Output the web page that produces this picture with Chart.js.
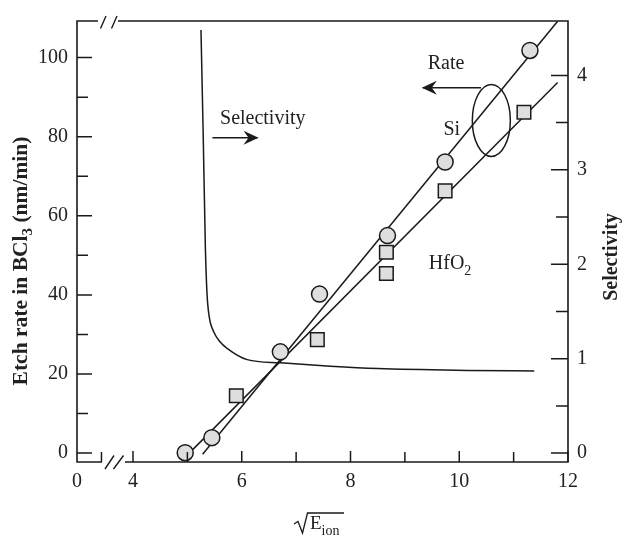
<!DOCTYPE html>
<html>
<head>
<meta charset="utf-8">
<script src="https://cdn.jsdelivr.net/npm/chart.js@4/dist/chart.umd.min.js"></script>
<style>
  html, body { margin: 0; padding: 0; background: #fff; }
  #wrap { width: 622px; height: 536px; position: relative; }
</style>
</head>
<body>
<div id="wrap"><canvas id="c" width="622" height="536"></canvas></div>
<script>
// ---- data ----
const siX = [4.96, 5.45, 6.71, 7.43, 8.68, 9.74, 11.30];
const siY = [0.1, 3.9, 25.6, 40.2, 55.0, 73.6, 101.8];
const hfX = [5.90, 7.39, 8.66, 8.66, 9.74, 11.19];
const hfY = [14.5, 28.7, 45.4, 50.8, 66.3, 86.2];
const siFitX = [5.28, 11.81];
const siFitY = [-0.3, 109.2];
const hfFitX = [5.02, 11.81];
const hfFitY = [-0.2, 93.7];
const selX = [5.25, 5.29, 5.33, 5.36, 5.40, 5.48, 5.60, 5.73, 6.10, 6.71, 7.63, 8.5, 10.15, 11.38];
const selY = [4.48, 3.40, 2.20, 1.70, 1.45, 1.29, 1.18, 1.11, 0.99, 0.956, 0.92, 0.895, 0.876, 0.87];

const xTickValues = [2.97, 3.42, 4, 5, 6, 7, 8, 9, 10, 11, 12];
const xTickLabels = ['0', '', '4', '', '6', '', '8', '', '10', '', '12'];
const yTickValues = [0, 10, 20, 30, 40, 50, 60, 70, 80, 90, 100];
const yTickLabels = ['0', '', '20', '', '40', '', '60', '', '80', '', '100'];
const y2TickValues = [0, 0.5, 1, 1.5, 2, 2.5, 3, 3.5, 4];
const y2TickLabels = ['0', '', '1', '', '2', '', '3', '', '4'];

const FONT = "'Liberation Serif', 'Times New Roman', serif";
const INK = '#1a1a1a';
const FILL = '#dedede';

function pts(xs, ys) { return xs.map((x, i) => ({ x: x, y: ys[i] })); }

function arrow(ctx, x1, y1, x2, y2) {
  ctx.beginPath();
  ctx.moveTo(x1, y1); ctx.lineTo(x2, y2); ctx.stroke();
  const dir = Math.sign(x2 - x1);
  ctx.beginPath();
  ctx.moveTo(x2 + dir * 1, y2);
  ctx.lineTo(x2 - dir * 14, y2 - 7);
  ctx.lineTo(x2 - dir * 9, y2);
  ctx.lineTo(x2 - dir * 14, y2 + 7);
  ctx.closePath();
  ctx.fill();
}

const decor = {
  id: 'decor',
  afterDraw(chart) {
    const ctx = chart.ctx;
    const a = chart.chartArea;
    const xs = chart.scales.x, ys = chart.scales.y, y2 = chart.scales.y2;
    ctx.save();
    ctx.strokeStyle = INK; ctx.fillStyle = INK;
    ctx.lineWidth = 1.6; ctx.lineCap = 'butt';

    // frame with axis breaks
    const topBreakA = a.left + 21, topBreakB = a.left + 41;
    const botBreakA = a.left + 25, botBreakB = a.left + 48;
    ctx.beginPath();
    ctx.moveTo(a.left, a.top); ctx.lineTo(a.left, a.bottom);
    ctx.moveTo(a.right, a.top); ctx.lineTo(a.right, a.bottom);
    ctx.moveTo(a.left - 0.8, a.top); ctx.lineTo(topBreakA, a.top);
    ctx.moveTo(topBreakB, a.top); ctx.lineTo(a.right + 0.8, a.top);
    ctx.moveTo(a.left - 0.8, a.bottom); ctx.lineTo(botBreakA, a.bottom);
    ctx.moveTo(botBreakB, a.bottom); ctx.lineTo(a.right + 0.8, a.bottom);
    ctx.stroke();
    // break slashes
    ctx.lineWidth = 1.4;
    ctx.beginPath();
    ctx.moveTo(topBreakA + 2.5, a.top + 7.5); ctx.lineTo(topBreakA + 8, a.top - 5);
    ctx.moveTo(topBreakA + 13.5, a.top + 7.5); ctx.lineTo(topBreakA + 19, a.top - 5);
    ctx.moveTo(botBreakA + 3, a.bottom + 7); ctx.lineTo(botBreakA + 12, a.bottom - 6.5);
    ctx.moveTo(botBreakA + 11.5, a.bottom + 7); ctx.lineTo(botBreakA + 21.5, a.bottom - 6.5);
    ctx.stroke();

    // inward ticks
    ctx.lineWidth = 1.5;
    ctx.beginPath();
    xTickValues.forEach((v, i) => {
      if (i === 0) return;
      const px = xs.getPixelForValue(v);
      const len = xTickLabels[i] ? 11 : 10;
      ctx.moveTo(px, a.bottom); ctx.lineTo(px, a.bottom - len);
    });
    yTickValues.forEach((v, i) => {
      const py = ys.getPixelForValue(v);
      const len = yTickLabels[i] ? 15 : 11;
      ctx.moveTo(a.left, py); ctx.lineTo(a.left + len, py);
    });
    y2TickValues.forEach((v, i) => {
      const py = y2.getPixelForValue(v);
      const len = y2TickLabels[i] ? 17 : 12;
      ctx.moveTo(a.right, py); ctx.lineTo(a.right - len, py);
    });
    ctx.stroke();

    // annotations (positions in data units)
    const X = v => xs.getPixelForValue(v), Y = v => ys.getPixelForValue(v);
    ctx.font = '20px ' + FONT;
    ctx.fillStyle = '#222';
    ctx.textBaseline = 'alphabetic';
    ctx.textAlign = 'left';
    ctx.fillText('Selectivity', X(5.60), Y(83.3));
    ctx.fillText('Rate', X(9.42), Y(97));
    ctx.fillText('Si', X(9.71), Y(80.5));
    ctx.fillText('HfO', X(9.44), Y(46.5));
    const hw = ctx.measureText('HfO').width;
    ctx.font = '14px ' + FONT;
    ctx.fillText('2', X(9.44) + hw, Y(46.5) + 6);

    ctx.fillStyle = INK; ctx.lineWidth = 1.5;
    arrow(ctx, X(5.46), Y(79.75), X(6.29), Y(79.75));
    arrow(ctx, X(10.40), Y(92.4), X(9.33), Y(92.4));
    ctx.beginPath();
    ctx.ellipse(X(10.59), Y(84.1), 19, 36, 0, 0, Math.PI * 2);
    ctx.stroke();

    // left axis title with subscript
    ctx.fillStyle = '#222';
    ctx.save();
    ctx.translate(27, 261);
    ctx.rotate(-Math.PI / 2);
    const p1 = 'Etch rate in BCl', p2 = '3', p3 = ' (nm/min)';
    ctx.font = 'bold 21.5px ' + FONT;
    const w1 = ctx.measureText(p1).width;
    const w3 = ctx.measureText(p3).width;
    ctx.font = 'bold 15px ' + FONT;
    const w2 = ctx.measureText(p2).width;
    const total = w1 + w2 + w3;
    let cx = -total / 2;
    ctx.font = 'bold 21.5px ' + FONT;
    ctx.fillText(p1, cx, 0); cx += w1;
    ctx.font = 'bold 15px ' + FONT;
    ctx.fillText(p2, cx, 5); cx += w2;
    ctx.font = 'bold 21.5px ' + FONT;
    ctx.fillText(p3, cx, 0);
    ctx.restore();

    // right axis title
    ctx.save();
    ctx.translate(617, 257);
    ctx.rotate(-Math.PI / 2);
    ctx.font = 'bold 20px ' + FONT;
    ctx.textAlign = 'center';
    ctx.fillText('Selectivity', 0, 0);
    ctx.restore();

    // x axis title: sqrt(E_ion)
    ctx.strokeStyle = INK; ctx.lineWidth = 1.3;
    ctx.beginPath();
    ctx.moveTo(294, 524); ctx.lineTo(298, 521.5); ctx.lineTo(302.5, 533);
    ctx.lineTo(307.5, 513); ctx.lineTo(344, 513);
    ctx.stroke();
    ctx.font = '19px ' + FONT;
    ctx.textAlign = 'left';
    ctx.fillText('E', 310, 529);
    const we = ctx.measureText('E').width;
    ctx.font = '14px ' + FONT;
    ctx.fillText('ion', 310 + we, 535);
    ctx.restore();
  }
};

const fixSize = (w, h) => (scale) => {
  if (w !== null) scale.width = w;
  if (h !== null) scale.height = h;
};

new Chart(document.getElementById('c'), {
  type: 'scatter',
  data: {
    datasets: [
      { label: 'Si', data: pts(siX, siY), pointStyle: 'circle', pointRadius: 8,
        pointBackgroundColor: FILL, pointBorderColor: INK, pointBorderWidth: 1.5, showLine: false, yAxisID: 'y' },
      { label: 'HfO2', data: pts(hfX, hfY), pointStyle: 'rect', pointRadius: 9.6,
        pointBackgroundColor: FILL, pointBorderColor: INK, pointBorderWidth: 1.5, showLine: false, yAxisID: 'y' },
      { label: 'Si fit', data: pts(siFitX, siFitY), showLine: true, pointRadius: 0,
        borderColor: INK, borderWidth: 1.5, yAxisID: 'y' },
      { label: 'HfO2 fit', data: pts(hfFitX, hfFitY), showLine: true, pointRadius: 0,
        borderColor: INK, borderWidth: 1.5, yAxisID: 'y' },
      { label: 'Selectivity', data: pts(selX, selY), showLine: true, pointRadius: 0,
        borderColor: INK, borderWidth: 1.5, cubicInterpolationMode: 'monotone', yAxisID: 'y2' }
    ]
  },
  options: {
    responsive: false,
    animation: false,
    devicePixelRatio: 1,
    layout: { padding: { top: 16, left: 0, right: 0, bottom: 0 } },
    plugins: { legend: { display: false }, tooltip: { enabled: false } },
    scales: {
      x: {
        type: 'linear', position: 'bottom', min: 2.97, max: 12,
        afterBuildTicks: s => { s.ticks = xTickValues.map(v => ({ value: v })); },
        afterFit: fixSize(null, 74),
        grid: { display: false, drawTicks: false },
        border: { display: false },
        ticks: { autoSkip: false, maxRotation: 0, padding: 8, color: '#222',
          font: { family: FONT, size: 20 }, callback: (v, i) => xTickLabels[i] }
      },
      y: {
        type: 'linear', position: 'left', min: -2.25, max: 109.25,
        afterBuildTicks: s => { s.ticks = yTickValues.map(v => ({ value: v })); },
        afterFit: fixSize(77, null),
        grid: { display: false, drawTicks: false },
        border: { display: false },
        ticks: { autoSkip: false, padding: 9, color: '#222',
          font: { family: FONT, size: 20 }, callback: (v, i) => yTickLabels[i] }
      },
      y2: {
        type: 'linear', position: 'right', min: -0.094, max: 4.576,
        afterBuildTicks: s => { s.ticks = y2TickValues.map(v => ({ value: v })); },
        afterFit: fixSize(54, null),
        grid: { display: false, drawTicks: false },
        border: { display: false },
        ticks: { autoSkip: false, padding: 9, color: '#222',
          font: { family: FONT, size: 20 }, callback: (v, i) => y2TickLabels[i] }
      }
    }
  },
  plugins: [decor]
});
</script>
</body>
</html>
